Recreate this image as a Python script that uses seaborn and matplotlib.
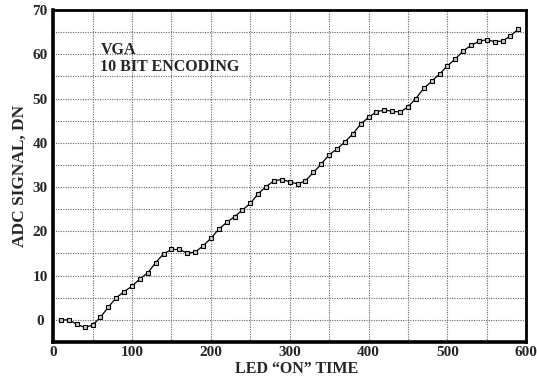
import numpy as np
import pandas as pd
import matplotlib
matplotlib.use("Agg")
import matplotlib.pyplot as plt
from matplotlib.ticker import MultipleLocator
import seaborn as sns

# LED "on" time samples and the measured ADC signal (DN)
led_time = list(range(10, 600, 10))
adc_signal = [
    0.0, 0.0, -1.0, -1.7, -1.2, 0.6, 2.9, 5.0, 6.4, 7.6,
    9.3, 10.6, 12.95, 14.9, 15.9, 15.9, 15.1, 15.3, 16.7, 18.4,
    20.5, 22.0, 23.3, 24.8, 26.3, 28.5, 30.1, 31.4, 31.7, 31.2,
    30.7, 31.4, 33.3, 35.2, 37.3, 38.6, 40.2, 42.0, 44.2, 45.75,
    47.0, 47.4, 47.1, 46.95, 48.1, 50.0, 52.3, 53.9, 55.5, 57.4,
    58.9, 60.75, 62.0, 62.9, 63.3, 62.8, 63.0, 64.15, 65.7,
]
x_ticks = [0, 100, 200, 300, 400, 500, 600]
y_ticks = [0, 10, 20, 30, 40, 50, 60, 70]

df = pd.DataFrame({"time": led_time, "signal": adc_signal})

sns.set_style("white")
plt.rcParams["font.family"] = ["Liberation Serif", "DejaVu Serif"]
plt.rcParams["font.weight"] = "bold"

fig = plt.figure(figsize=(5.37, 3.83), dpi=100)
ax = fig.add_axes([0.099, 0.107, 0.881, 0.867])

sns.lineplot(
    data=df, x="time", y="signal", ax=ax,
    color="black", linewidth=0.9,
    marker="s", markersize=3.0, markerfacecolor="#c8c8c8",
    markeredgecolor="black", markeredgewidth=0.8,
)

ax.set_xlim(0, 600)
ax.set_ylim(-5, 70)
ax.set_xticks(x_ticks)
ax.set_yticks(y_ticks)
ax.xaxis.set_minor_locator(MultipleLocator(50))
ax.yaxis.set_minor_locator(MultipleLocator(5))
ax.grid(True, which="both", linestyle=(0, (1, 1.2)), color="0.4", linewidth=0.8)
ax.set_axisbelow(True)

ax.tick_params(axis="both", which="both", length=0, labelsize=11)
ax.tick_params(axis="x", pad=3)
ax.tick_params(axis="y", pad=9.5)
for lab in ax.get_yticklabels():
    lab.set_horizontalalignment("center")
    lab.set_fontweight("bold")
for lab in ax.get_xticklabels():
    lab.set_fontweight("bold")

for side, lw in [("left", 2.6), ("bottom", 2.6), ("top", 2.0), ("right", 2.0)]:
    ax.spines[side].set_visible(True)
    ax.spines[side].set_color("black")
    ax.spines[side].set_linewidth(lw)

ax.set_xlabel("LED \u201cON\u201d TIME", fontsize=11.5, fontweight="bold", labelpad=1)
ax.xaxis.label.set_x(0.515)
ax.set_ylabel("ADC SIGNAL, DN", fontsize=12.5, fontweight="bold", labelpad=3)

ax.text(60, 60, "VGA", fontsize=11.5, fontweight="bold", va="baseline", ha="left")
ax.text(60, 56.2, "10 BIT ENCODING", fontsize=11.5, fontweight="bold", va="baseline", ha="left")

fig.savefig("out.png", dpi=100)
